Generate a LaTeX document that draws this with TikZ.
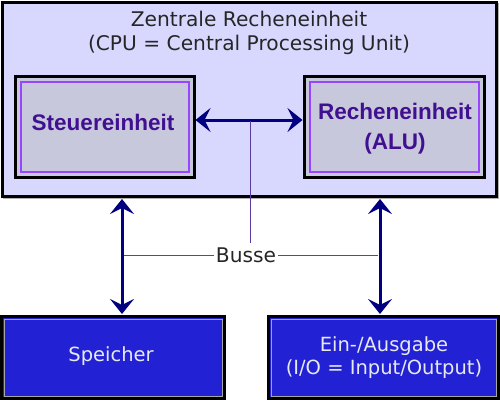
\documentclass[tikz,border=0pt]{standalone}
\usepackage{fontspec}
\usetikzlibrary{arrows.meta}
\newfontfamily\tfont{DejaVu Sans}
\setmainfont{Liberation Sans}
\definecolor{cpufill}{HTML}{D8D8FF}
\definecolor{unitfill}{HTML}{C8C8DC}
\definecolor{unitline}{HTML}{9944FF}
\definecolor{unittext}{HTML}{401090}
\definecolor{navy}{HTML}{000080}
\definecolor{busline}{HTML}{505078}
\definecolor{vline}{HTML}{5A3AA0}
\definecolor{iofill}{HTML}{2222D4}
\definecolor{iotext}{HTML}{E8E8F0}
\tikzset{
  unitbox/.style={draw=black, line width=3pt, fill=unitfill},
  unitinner/.style={draw=unitline, line width=2pt},
  unitlabel/.style={font=\fontsize{22.5}{30}\selectfont\bfseries, text=unittext, align=center},
  iobox/.style={draw=black, line width=3pt, fill=iofill},
  iolabel/.style={font=\tfont\fontsize{19.5}{23}\selectfont, text=iotext, align=center},
  busarrow/.style={draw=navy, line width=3pt, {Stealth[length=15pt,width=24pt,inset=6pt]}-{Stealth[length=15pt,width=24pt,inset=6pt]}},
  thinline/.style={draw=busline, line width=0.9pt}
}
\begin{document}
\begin{tikzpicture}[x=1pt,y=-1pt]
\useasboundingbox (0,0) rectangle (500,400);
% CPU
\draw[draw=gray!60, line width=1.5pt] (4,4) rectangle (498.5,198.5);
\draw[draw=black, line width=3pt, fill=cpufill] (2.5,2.5) rectangle (496.5,196.5);
\node[font=\tfont\fontsize{20.2}{24}\selectfont, text=black!85, align=center] (cpu) at (249,33) {Zentrale Recheneinheit\\(CPU = Central Processing Unit)};
% Steuereinheit
\draw[unitbox] (15,76) rectangle (194,177);
\draw[unitinner] (20.5,81.5) rectangle (188.5,171.5);
\node[unitlabel] (st) at (103,122) {Steuereinheit};
\coordinate (stE) at (195.5,120);
% ALU
\draw[unitbox] (304,76) rectangle (484,177);
\draw[unitinner] (309.5,81.5) rectangle (478.5,171.5);
\node[unitlabel] (alu) at (395,129) {Recheneinheit\\(ALU)};
\coordinate (aluW) at (302.5,120);
\draw[busarrow] (stE) -- (aluW);
% bottom boxes
\draw[iobox] (1.5,316.5) rectangle (224.5,398.5);
\draw[draw=gray!70, line width=0.8pt] (4,319) rectangle (222,396);
\node[iolabel] (mem) at (111,356) {Speicher};
\draw[iobox] (268.5,316.5) rectangle (498.5,398.5);
\draw[draw=gray!70, line width=0.8pt] (271,319) rectangle (496,396);
\node[iolabel] (io) at (384,358) {Ein-/Ausgabe\\(I/O = Input/Output)};
% vertical bus arrows
\coordinate (lt) at (122,199);
\coordinate (lb) at (122,314);
\coordinate (rt) at (380,199);
\coordinate (rb) at (380,314);
\draw[busarrow] (lt) -- (lb);
\draw[busarrow] (rt) -- (rb);
% Busse
\node[font=\tfont\fontsize{20.2}{24}\selectfont, text=black!85, inner sep=1.5pt] (busse) at (246,255) {Busse};
\coordinate (vtop) at (250,121);
\coordinate (vbot) at (250,243);
\draw[draw=vline, line width=0.9pt] (vtop) -- (vbot);
\coordinate (bl) at (124,255);
\coordinate (br) at (378,255);
\draw[thinline] (bl) -- (busse.west);
\draw[thinline] (busse.east) -- (br);
\end{tikzpicture}
\end{document}
